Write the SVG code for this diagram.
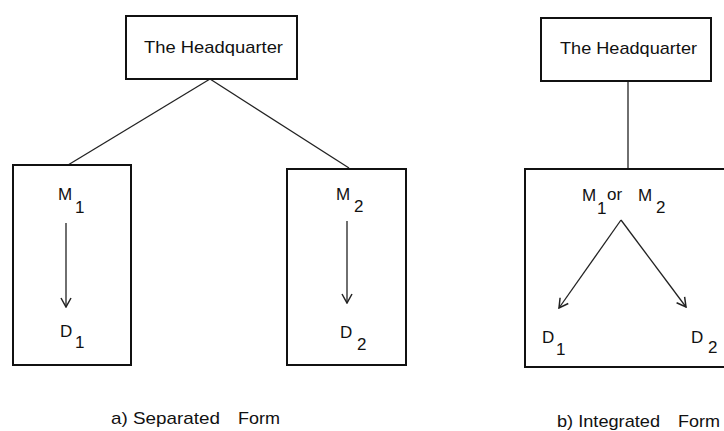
<svg xmlns="http://www.w3.org/2000/svg" width="724" height="431" viewBox="0 0 724 431">
<style>
.box{fill:#fff;stroke:#111;stroke-width:2}
.ln{stroke:#222;stroke-width:1.3;fill:none}
.t{font-family:"Liberation Sans",Arial,sans-serif;font-size:17px;fill:#111}
.s{font-family:"Liberation Sans",Arial,sans-serif;font-size:17px;fill:#111}
</style>
<defs>
<marker id="ah" viewBox="0 0 12 12" refX="11" refY="6" markerWidth="12" markerHeight="12" markerUnits="userSpaceOnUse" orient="auto">
<polyline points="2,1 11,6 2,11" fill="none" stroke="#222" stroke-width="1.5"/>
</marker>
</defs>
<rect width="724" height="431" fill="#fff"/>
<g id="connectors">
<line class="ln" x1="210" y1="79" x2="68" y2="165"/>
<line class="ln" x1="210" y1="79" x2="349" y2="168"/>
<line class="ln" x1="628" y1="81" x2="628" y2="169"/>
</g>
<g id="hq-a">
<rect class="box" x="126" y="16" width="171" height="63"/>
<text class="t" x="144" y="53" textLength="139" lengthAdjust="spacingAndGlyphs">The Headquarter</text>
</g>
<g id="unit-1">
<rect class="box" x="13" y="165" width="118" height="200"/>
<text class="t" x="58" y="200">M</text><text class="s" x="75" y="213">1</text>
<line class="ln" x1="66" y1="223" x2="66" y2="307" marker-end="url(#ah)"/>
<text class="t" x="60" y="337">D</text><text class="s" x="75" y="348">1</text>
</g>
<g id="unit-2">
<rect class="box" x="287" y="169" width="119" height="196"/>
<text class="t" x="336" y="200">M</text><text class="s" x="354" y="212">2</text>
<line class="ln" x1="347" y1="221" x2="347" y2="303" marker-end="url(#ah)"/>
<text class="t" x="340" y="338">D</text><text class="s" x="357" y="350">2</text>
</g>
<g id="caption-a">
<text class="t" x="111" y="424" textLength="109" lengthAdjust="spacingAndGlyphs">a) Separated</text>
<text class="t" x="238" y="424" textLength="42" lengthAdjust="spacingAndGlyphs">Form</text>
</g>
<g id="hq-b">
<rect class="box" x="541" y="18" width="170" height="63"/>
<text class="t" x="560" y="54" textLength="137" lengthAdjust="spacingAndGlyphs">The Headquarter</text>
</g>
<g id="unit-integrated">
<rect class="box" x="525" y="169" width="210" height="198"/>
<text class="t" x="582" y="201">M</text><text class="s" x="597" y="214">1</text>
<text class="t" x="607" y="200">or</text>
<text class="t" x="638" y="201">M</text><text class="s" x="656" y="213">2</text>
<line class="ln" x1="621" y1="220" x2="559" y2="308" marker-end="url(#ah)"/>
<line class="ln" x1="621" y1="220" x2="686" y2="307" marker-end="url(#ah)"/>
<text class="t" x="542" y="343">D</text><text class="s" x="556" y="355">1</text>
<text class="t" x="691" y="343">D</text><text class="s" x="708" y="353">2</text>
</g>
<g id="caption-b">
<text class="t" x="557" y="427" textLength="103" lengthAdjust="spacingAndGlyphs">b) Integrated</text>
<text class="t" x="678" y="427" textLength="42" lengthAdjust="spacingAndGlyphs">Form</text>
</g>
</svg>
